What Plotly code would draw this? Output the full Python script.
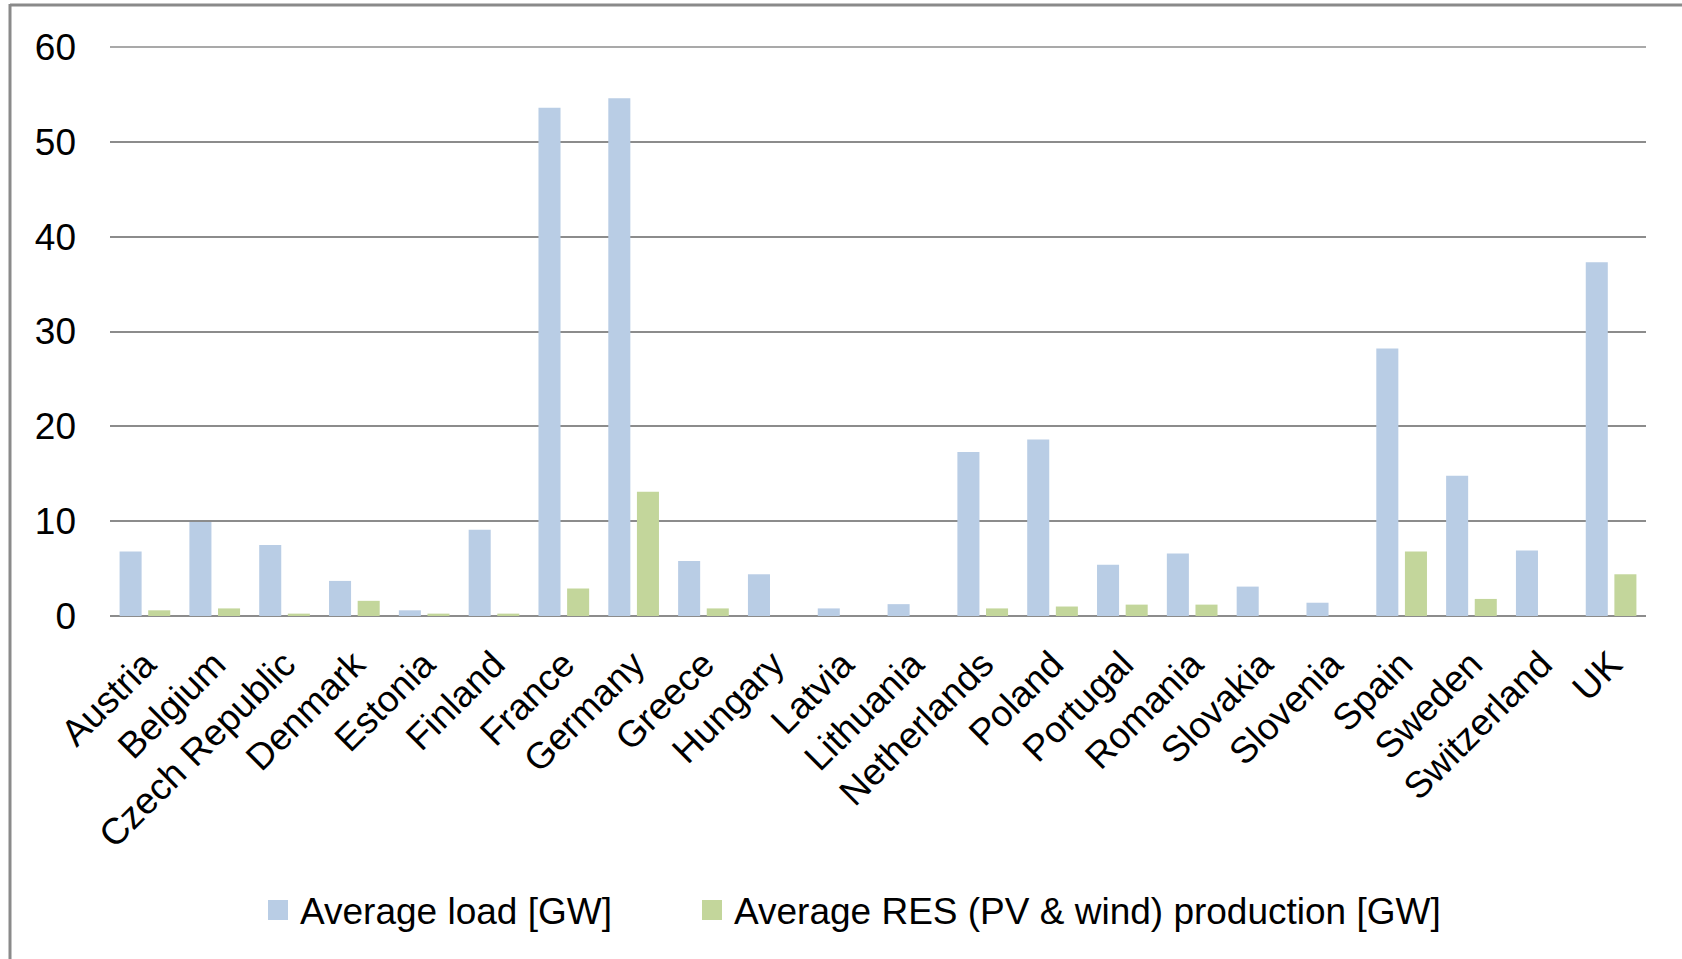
import plotly.graph_objects as go

# Average load vs. average RES (PV & wind) production per country, in GW
countries = [
    "Austria", "Belgium", "Czech Republic", "Denmark", "Estonia", "Finland",
    "France", "Germany", "Greece", "Hungary", "Latvia", "Lithuania",
    "Netherlands", "Poland", "Portugal", "Romania", "Slovakia", "Slovenia",
    "Spain", "Sweden", "Switzerland", "UK",
]
avg_load = [
    6.8, 9.9, 7.5, 3.7, 0.6, 9.1,
    53.6, 54.6, 5.8, 4.4, 0.8, 1.25,
    17.3, 18.6, 5.4, 6.6, 3.1, 1.4,
    28.2, 14.8, 6.9, 37.3,
]
avg_res = [
    0.6, 0.8, 0.25, 1.6, 0.25, 0.25,
    2.9, 13.1, 0.8, 0.0, 0.0, 0.0,
    0.8, 1.0, 1.2, 1.2, 0.0, 0.0,
    6.8, 1.8, 0.0, 4.4,
]
series_names = ["Average load [GW]", "Average RES (PV & wind) production [GW]"]
series_colors = ["#B9CDE5", "#C3D69B"]
y_ticks = [0, 10, 20, 30, 40, 50, 60]

FONT = "Liberation Sans, Arial, sans-serif"
FS = 37

fig = go.Figure()
for name, vals, col in zip(series_names, [avg_load, avg_res], series_colors):
    fig.add_trace(go.Bar(
        x=countries, y=vals, name=name,
        marker=dict(color=col, line=dict(width=0)),
        showlegend=False,
    ))

# plot area in pixels: x 110..1646, y 47..616
W, H = 1682, 959
L, R, T, B = 110, 36, 47, 343
pw, ph = W - L - R, H - T - B


def px(x):
    return (x - L) / pw


def py(y):
    return (H - B - y) / ph


shapes = []
annotations = []
# legend swatches and labels
legend_items = [(268, 298), (702, 732)]
for (sx, tx), name, col in zip(legend_items, series_names, series_colors):
    shapes.append(dict(type="rect", xref="paper", yref="paper",
                       x0=px(sx), x1=px(sx + 20), y0=py(900), y1=py(920),
                       fillcolor=col, line=dict(width=0)))
    annotations.append(dict(xref="paper", yref="paper", x=px(tx), y=py(911),
                            xanchor="left", yanchor="middle", showarrow=False,
                            text=name, font=dict(family=FONT, size=FS, color="#000000")))

# gridline along the top of the value range (paper-referenced so it is not clipped)
shapes.append(dict(type="line", xref="paper", yref="paper", x0=0, x1=1, y0=1, y1=1,
                   line=dict(color="#8C8C8C", width=1.6), layer="below"))

# outer chart frame (left and top edges)
frame_col = "#8A8A8A"
shapes.append(dict(type="line", xref="paper", yref="paper",
                   x0=px(10), x1=px(10), y0=py(4), y1=py(W + 50),
                   line=dict(color=frame_col, width=3)))
shapes.append(dict(type="line", xref="paper", yref="paper",
                   x0=px(10), x1=px(W + 50), y0=py(5), y1=py(5),
                   line=dict(color=frame_col, width=3)))

fig.update_layout(
    width=W, height=H,
    margin=dict(l=L, r=R, t=T, b=B, autoexpand=False),
    paper_bgcolor="white", plot_bgcolor="white",
    barmode="group", bargap=0.18, bargroupgap=0.23,
    font=dict(family=FONT, size=FS, color="#000000"),
    shapes=shapes, annotations=annotations,
    showlegend=False,
)
fig.update_xaxes(
    type="category", tickangle=-45, showgrid=False, showline=False,
    tickfont=dict(family=FONT, size=FS, color="#000000"),
    ticks="", zeroline=False, ticklabelstandoff=18,
)
fig.update_yaxes(
    range=[0, 60], tickvals=y_ticks, showgrid=True, gridcolor="#8C8C8C", gridwidth=1.6,
    zeroline=True, zerolinecolor="#8C8C8C", zerolinewidth=1.6, showline=False,
    ticks="", ticklabelstandoff=33,
    tickfont=dict(family=FONT, size=FS, color="#000000"),
)

fig.write_html("out.html")
